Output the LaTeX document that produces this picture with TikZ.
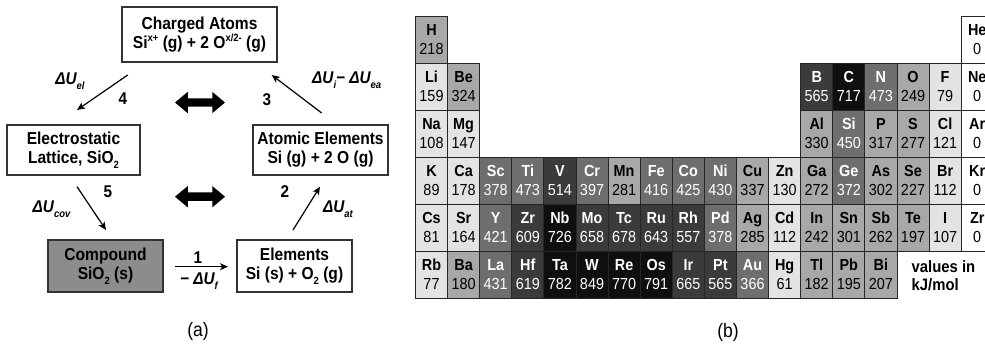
\documentclass[tikz,border=0pt]{standalone}
\usepackage{fontspec}
\setmainfont{Liberation Sans}[FakeStretch=0.9]
\usetikzlibrary{arrows.meta,shapes.arrows}

% cell shades of the energy scale (A light ... E black, W empty)
\definecolor{lvW}{gray}{1}
\definecolor{lvA}{gray}{0.89}
\definecolor{lvB}{gray}{0.66}
\definecolor{lvC}{gray}{0.43}
\definecolor{lvD}{gray}{0.23}
\definecolor{lvE}{gray}{0.06}
\colorlet{txW}{black}
\colorlet{txA}{black}
\colorlet{txB}{black}
\colorlet{txC}{white}
\colorlet{txD}{white}
\colorlet{txE}{white}
\definecolor{boxgrey}{gray}{0.55}

\newcommand\hisup[1]{\raisebox{0.42em}{\fontsize{10.5}{10}\selectfont #1}}
\newcommand\losub[1]{\raisebox{-0.28em}{\fontsize{10.5}{10}\selectfont #1}}
\newcommand\dU[1]{ΔU\losub{#1}}

\tikzset{
  statebox/.style={draw=black!80, line width=1.3pt, fill=white, inner sep=0pt,
    align=center, font=\fontsize{17.3}{19}\selectfont\bfseries},
  step arrow/.style={line width=1.2pt, -{Stealth[length=8pt,width=7pt,inset=2pt]}},
  energy/.style={font=\fontsize{17}{18}\selectfont\bfseries\itshape, inner sep=0pt},
  stepnum/.style={font=\fontsize{17}{18}\selectfont\bfseries, inner sep=0pt},
  swap/.style={double arrow, fill=black, draw=none, inner xsep=0pt, inner ysep=4pt,
    minimum height=50pt, double arrow head extend=6.5pt, double arrow tip angle=80},
  cell/.style={draw=black!85, line width=0.9pt, inner sep=0pt, anchor=north west,
    minimum width=32.1pt, minimum height=47pt},
  symtext/.style={font=\fontsize{16}{16}\selectfont\bfseries, inner sep=0pt, anchor=base},
  valtext/.style={font=\fontsize{16}{16}\selectfont, inner sep=0pt, anchor=base},
  caption/.style={font=\fontsize{19.5}{20}\selectfont, inner sep=0pt}
}

\begin{document}
\begin{tikzpicture}[x=1pt, y=-1pt]
\useasboundingbox (0,0) rectangle (985,344);
\clip (0,0) rectangle (985,344);

% ---------- (a) energy cycle ----------
\node[statebox, minimum width=155pt, minimum height=55pt] (charged) at (199.5,34.5)
  {Charged Atoms\\Si\hisup{x+} (g) + 2 O\hisup{x/2-} (g)};
\node[statebox, minimum width=133pt, minimum height=50pt] (lattice) at (73.5,150)
  {Electrostatic\\Lattice, SiO\losub{2}};
\node[statebox, minimum width=135pt, minimum height=50pt] (atomic) at (320.5,150)
  {Atomic Elements\\Si (g) + 2 O (g)};
\node[statebox, fill=boxgrey, minimum width=115pt, minimum height=52pt] (compound) at (105.5,266)
  {Compound\\SiO\losub{2} (s)};
\node[statebox, minimum width=115pt, minimum height=52pt] (elements) at (294.5,266)
  {Elements\\Si (s) + O\losub{2} (g)};

% arrow end points
\coordinate (s4a) at (127.7,75);  \coordinate (s4b) at (77,110);
\coordinate (s3a) at (321.7,113); \coordinate (s3b) at (271.7,75);
\coordinate (s5a) at (77,186.7);  \coordinate (s5b) at (106,230);
\coordinate (s2a) at (293,230);   \coordinate (s2b) at (320,186.7);
\coordinate (s1a) at (175,266.7); \coordinate (s1b) at (228,266.7);

\draw[step arrow] (s1a) -- (s1b);
\draw[step arrow] (s2a) -- (s2b);
\draw[step arrow] (s3a) -- (s3b);
\draw[step arrow] (s4a) -- (s4b);
\draw[step arrow] (s5a) -- (s5b);

\node[stepnum] (n1) at (198,257.5) {1};
\node[stepnum] (n2) at (285,191.7) {2};
\node[stepnum] (n3) at (267,100) {3};
\node[stepnum] (n4) at (123,99) {4};
\node[stepnum] (n5) at (108,191.7) {5};

\node[energy] (e1) at (199,281) {− \dU{f}};
\node[energy] (e2) at (338,209) {\dU{at}};
\node[energy] (e3) at (346.7,80) {\dU{i}− \dU{ea}};
\node[energy] (e4) at (70,81) {\dU{el}};
\node[energy] (e5) at (51.5,209) {\dU{cov}};

\node[swap] (swapu) at (200,102.5) {};
\node[swap] (swapl) at (200,196.7) {};

\node[caption] (capa) at (198,331.5) {(a)};

% ---------- (b) periodic table ----------
\foreach \c/\r/\s/\v/\l in {
  0/0/H/218/B, 17/0/He/0/W,
  0/1/Li/159/A, 1/1/Be/324/B, 12/1/B/565/D, 13/1/C/717/E, 14/1/N/473/C,
  15/1/O/249/B, 16/1/F/79/A, 17/1/Ne/0/W,
  0/2/Na/108/A, 1/2/Mg/147/A, 12/2/Al/330/B, 13/2/Si/450/C, 14/2/P/317/B,
  15/2/S/277/B, 16/2/Cl/121/A, 17/2/Ar/0/W,
  0/3/K/89/A, 1/3/Ca/178/A, 2/3/Sc/378/C, 3/3/Ti/473/C, 4/3/V/514/D,
  5/3/Cr/397/C, 6/3/Mn/281/B, 7/3/Fe/416/C, 8/3/Co/425/C, 9/3/Ni/430/C,
  10/3/Cu/337/B, 11/3/Zn/130/A, 12/3/Ga/272/B, 13/3/Ge/372/C, 14/3/As/302/B,
  15/3/Se/227/B, 16/3/Br/112/A, 17/3/Kr/0/W,
  0/4/Cs/81/A, 1/4/Sr/164/A, 2/4/Y/421/C, 3/4/Zr/609/D, 4/4/Nb/726/E,
  5/4/Mo/658/D, 6/4/Tc/678/D, 7/4/Ru/643/D, 8/4/Rh/557/D, 9/4/Pd/378/C,
  10/4/Ag/285/B, 11/4/Cd/112/A, 12/4/In/242/B, 13/4/Sn/301/B, 14/4/Sb/262/B,
  15/4/Te/197/B, 16/4/I/107/A, 17/4/Zr/0/W,
  0/5/Rb/77/A, 1/5/Ba/180/B, 2/5/La/431/C, 3/5/Hf/619/D, 4/5/Ta/782/E,
  5/5/W/849/E, 6/5/Re/770/E, 7/5/Os/791/E, 8/5/Ir/665/D, 9/5/Pt/565/D,
  10/5/Au/366/C, 11/5/Hg/61/A, 12/5/Tl/182/B, 13/5/Pb/195/B, 14/5/Bi/207/B}
{
  \node[cell, fill=lv\l] (c\r-\c) at ({415+\c*32.1},{16+\r*47}) {};
  \node[symtext, text=tx\l] (s\r-\c) at ([yshift=-19.5pt]c\r-\c.north) {\s};
  \node[valtext, text=tx\l] (v\r-\c) at ([yshift=-38.5pt]c\r-\c.north) {\v};
}

\node[font=\fontsize{16.5}{18}\selectfont\bfseries, align=left, anchor=north west,
  inner sep=0pt] (unit) at (911.5,260.5) {values in\\kJ/mol};

\node[caption] (capb) at (728,332) {(b)};
\end{tikzpicture}
\end{document}
